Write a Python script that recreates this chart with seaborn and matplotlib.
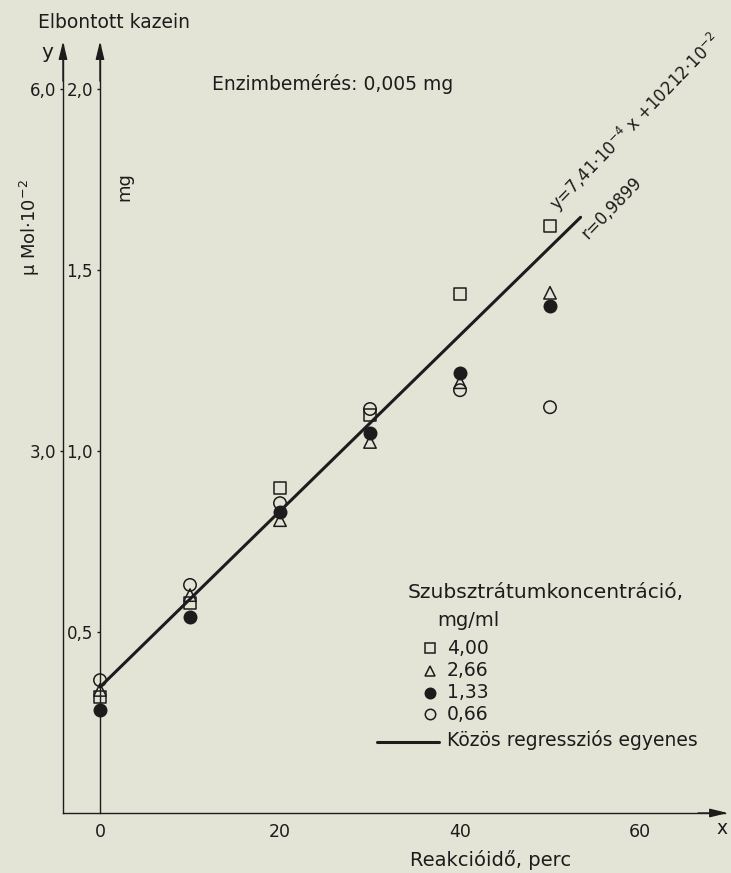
import numpy as np
import pandas as pd
import matplotlib
matplotlib.use("Agg")
import matplotlib.pyplot as plt
from matplotlib.lines import Line2D
import seaborn as sns

# ---------------- data (y in mg) ----------------
minutes = [0, 10, 20, 30, 40, 50]
conc_400 = [0.320, 0.580, 0.898, 1.099, 1.434, 1.622]   # open square
conc_266 = [0.340, 0.602, 0.809, 1.025, 1.190, 1.437]   # open triangle
conc_133 = [0.285, 0.541, 0.831, 1.050, 1.215, 1.400]   # filled circle
conc_066 = [0.367, 0.630, 0.856, 1.116, 1.168, 1.121]   # open circle
series_labels = ["4,00", "2,66", "1,33", "0,66"]
reg_intercept = 0.348
reg_slope = 0.0243
reg_x_range = [0, 53.4]
mg_ticks = [0.5, 1.0, 1.5, 2.0]
mg_ticklabels = ["0,5", "1,0", "1,5", "2,0"]
umol_ticks = [3.0, 6.0]
umol_ticklabels = ["3,0", "6,0"]
x_ticks = [0, 20, 40, 60]
x_ticklabels = ["0", "20", "40", "60"]

# ---------------- figure geometry ----------------
W, H = 731, 873
BG = '#e4e4d6'
INK = '#1c1c1c'
sns.set_theme(style='white')
plt.rcParams['font.family'] = ['DejaVu Sans']
plt.rcParams['text.color'] = INK

fig = plt.figure(figsize=(W / 100, H / 100), dpi=100, facecolor=BG)


def fx(px):
    return px / W


def fy(py):
    return 1 - py / H


x_px0, x_scale = 100.0, 9.0
y_px0, y_scale = 813.0, 362.0
left_px, right_px, top_px = 63.0, 725.0, 45.0
xmin = (left_px - x_px0) / x_scale
xmax = (right_px - x_px0) / x_scale
ymax = (y_px0 - top_px) / y_scale

ax = fig.add_axes([fx(left_px), fy(y_px0), (right_px - left_px) / W, (y_px0 - top_px) / H])
ax.set_facecolor('none')
ax.set_xlim(xmin, xmax)
ax.set_ylim(0, ymax)

# inner mg axis at x = 0
for s in ['top', 'right']:
    ax.spines[s].set_visible(False)
ax.spines['left'].set_position(('data', 0))
for s in ['left', 'bottom']:
    ax.spines[s].set_color(INK)
    ax.spines[s].set_linewidth(1.0)
ax.set_yticks(mg_ticks)
ax.set_yticklabels(mg_ticklabels)
ax.set_xticks([xmin] + x_ticks)
ax.set_xticklabels([""] + x_ticklabels)
ax.tick_params(axis='y', direction='out', length=2.5, width=1, pad=2.5,
               labelsize=12, colors=INK)
ax.tick_params(axis='x', direction='inout', length=7, width=1, pad=4,
               labelsize=12.5, colors=INK)

# outer µMol axis
ax2 = ax.twinx()
ax2.set_ylim(0, ymax * 3)
for s in ['top', 'right', 'bottom']:
    ax2.spines[s].set_visible(False)
ax2.spines['left'].set_visible(True)
ax2.spines['left'].set_position(('axes', 0))
ax2.spines['left'].set_color(INK)
ax2.spines['left'].set_linewidth(1.0)
ax2.yaxis.tick_left()
ax2.set_yticks(umol_ticks)
ax2.set_yticklabels(umol_ticklabels)
ax2.tick_params(axis='y', direction='out', length=2.5, width=1, pad=2.5,
                labelsize=12, colors=INK)
ax2.set_facecolor('none')

# arrows
arw = dict(arrowstyle='-|>,head_length=0.9,head_width=0.22', color=INK, lw=1.0,
           shrinkA=0, shrinkB=0)
ax.annotate('', xy=(0, ymax + 0.01), xytext=(0, ymax - 0.1), arrowprops=arw,
            annotation_clip=False)
ax.annotate('', xy=(xmin, ymax + 0.01), xytext=(xmin, ymax - 0.1), arrowprops=arw,
            annotation_clip=False)
ax.annotate('', xy=(xmax + 0.3, 0), xytext=(xmax - 3, 0), arrowprops=arw,
            annotation_clip=False)

# ---------------- data marks ----------------
mk = dict(s=80, linewidth=1.1, ax=ax, legend=False, zorder=3, clip_on=False)
sns.scatterplot(x=minutes, y=conc_400, marker='s', facecolors='none', edgecolor=INK, **mk)
sns.scatterplot(x=minutes, y=conc_266, marker='^', facecolors='none', edgecolor=INK, **mk)
sns.scatterplot(x=minutes, y=conc_133, marker='o', color=INK, edgecolor=INK, **mk)
sns.scatterplot(x=minutes, y=conc_066, marker='o', facecolors='none', edgecolor=INK, **mk)

reg_x = np.array(reg_x_range)
reg_y = reg_intercept + reg_slope * reg_x
sns.lineplot(x=reg_x, y=reg_y, color=INK, linewidth=2.2, ax=ax, zorder=4)

# ---------------- texts ----------------
fs = 13.5
fig.text(fx(38), fy(22), "Elbontott kazein", fontsize=fs, va='center', ha='left')
fig.text(fx(53), fy(52), "y", fontsize=fs + 1, va='center', ha='right')
fig.text(fx(722), fy(828), "x", fontsize=fs, va='center', ha='center')
fig.text(fx(30), fy(228), "µ Mol·10$^{-2}$", fontsize=13, rotation=90,
         va='center', ha='center')
fig.text(fx(124), fy(187), "mg", fontsize=13, rotation=90, va='center', ha='center')
fig.text(fx(212), fy(84), "Enzimbemérés: 0,005 mg", fontsize=fs, va='center', ha='left')
fig.text(fx(410), fy(860), "Reakcióidő, perc", fontsize=14, va='center', ha='left')

fig.text(fx(562), fy(216), "y=7,41·10$^{-4}$ x +10212·10$^{-2}$", fontsize=12,
         rotation=46, rotation_mode='anchor', va='bottom', ha='left')
fig.text(fx(591), fy(242), "r=0,9899", fontsize=12, rotation=46,
         rotation_mode='anchor', va='bottom', ha='left')

# legend (manual)
fig.text(fx(408), fy(593), "Szubsztrátumkoncentráció,", fontsize=14.5, va='center', ha='left')
fig.text(fx(437), fy(621), "mg/ml", fontsize=14, va='center', ha='left')
leg_y = [648, 671, 693, 714]
leg_marker = [dict(marker='s', mfc='none'), dict(marker='^', mfc='none'),
              dict(marker='o', mfc=INK), dict(marker='o', mfc='none')]
for lab, yy, m in zip(series_labels, leg_y, leg_marker):
    fig.add_artist(Line2D([fx(430)], [fy(yy)], ls='', ms=7.5, mec=INK, mew=1.1, **m))
    fig.text(fx(447), fy(yy), lab, fontsize=fs, va='center', ha='left')
fig.add_artist(Line2D([fx(377), fx(439)], [fy(742), fy(742)], color=INK, lw=2.2))
fig.text(fx(447), fy(740), "Közös regressziós egyenes", fontsize=fs, va='center', ha='left')

fig.savefig("out.png", dpi=100, facecolor=BG)
